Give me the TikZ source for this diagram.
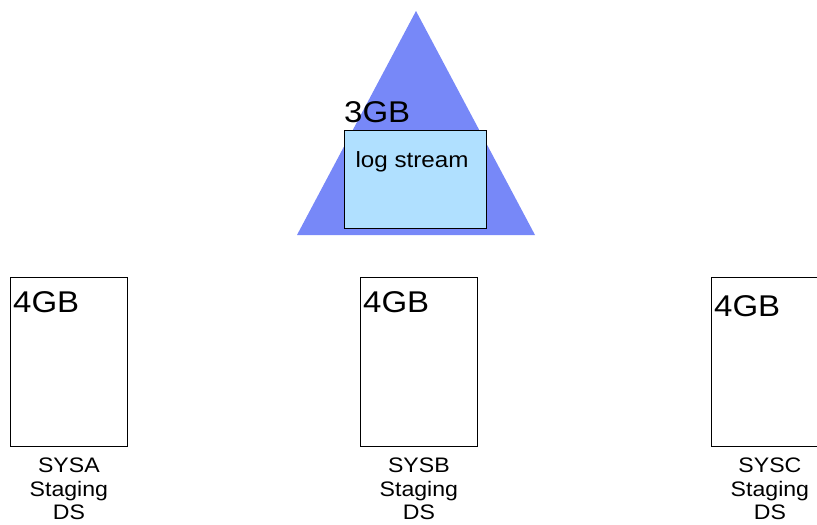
\documentclass[tikz,border=0pt]{standalone}
\usepackage{fontspec}
\setmainfont{Liberation Sans}
\usetikzlibrary{positioning}

\definecolor{pyramid}{RGB}{119,136,248}
\definecolor{logfill}{RGB}{176,224,255}

\tikzset{
  wide/.style={xscale=1.1, transform shape},
  sizelbl/.style={wide, font=\fontsize{30}{32}\selectfont, inner sep=0pt, anchor=base west},
  dsbox/.style={draw, thick, minimum width=117pt, minimum height=169pt, inner sep=0pt},
  syslbl/.style={wide, font=\fontsize{21}{23.5}\selectfont, align=center, inner sep=0pt}
}

\begin{document}
\begin{tikzpicture}[x=1pt, y=-1pt]
    \useasboundingbox (0,0) rectangle (817,525);

    % coupling facility structure
    \fill[pyramid] (416,11) -- (535,235) -- (297,235) -- cycle;
    \node[draw, thick, fill=logfill, minimum width=142pt, minimum height=98pt,
      anchor=north west, inner sep=0pt] (logstr) at (344,130) {};
    \node[wide, font=\fontsize{22}{24}\selectfont, anchor=base, inner sep=0pt]
      (logtxt) at (412,167) {log stream};
    \node[sizelbl] (cfsize) at (344,122) {3GB};

    % staging data sets
    \foreach \name/\x/\y/\sys in {sysa/10/312/SYSA, sysb/360/312/SYSB, sysc/711/316/SYSC} {
      \node[dsbox, anchor=north west] (\name) at (\x,277) {};
      \node[sizelbl] (\name size) at (\x+3,\y) {4GB};
      \node[syslbl, below=11pt of \name] (\name lbl) {\sys\\Staging\\DS};
    }
\end{tikzpicture}
\end{document}
